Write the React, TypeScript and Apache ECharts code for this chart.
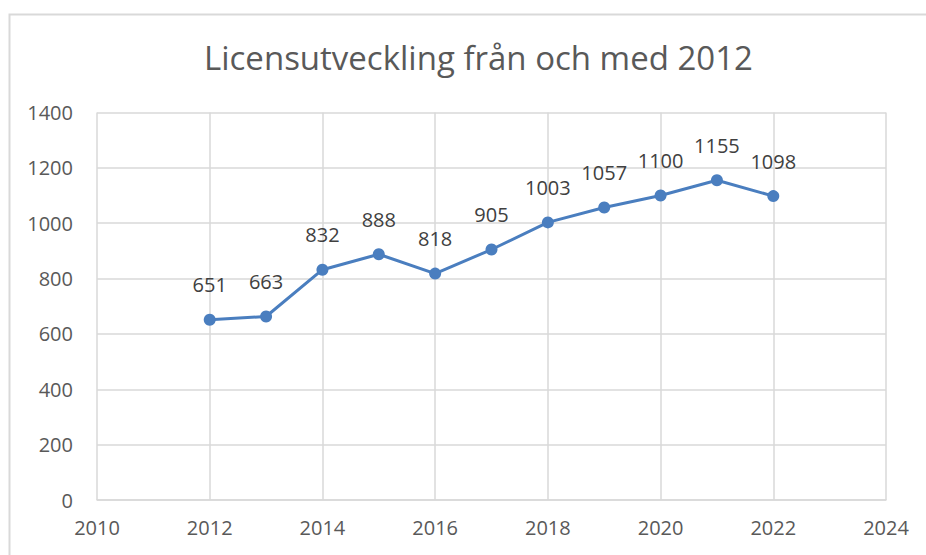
import React, { useEffect, useRef } from "react";
import * as echarts from "echarts";

const years = [2012, 2013, 2014, 2015, 2016, 2017, 2018, 2019, 2020, 2021, 2022];
const licenses = [651, 663, 832, 888, 818, 905, 1003, 1057, 1100, 1155, 1098];
const titleText = "Licensutveckling från och med 2012";

const FONT = "'Open Sans', 'Noto Sans', sans-serif";

export default function App() {
  const ref = useRef<HTMLDivElement>(null);
  useEffect(() => {
    if (!ref.current) return;
    const chart = echarts.init(ref.current, undefined, { renderer: "svg" });
    chart.setOption({
      animation: false,
      backgroundColor: "#ffffff",
      title: {
        text: titleText,
        left: 199,
        top: 36,
        textStyle: { color: "#595959", fontSize: 33, fontWeight: "normal", fontFamily: FONT },
      },
      graphic: [
        {
          type: "rect",
          shape: { x: 9.5, y: 14.5, width: 1000, height: 700 },
          style: { fill: "none", stroke: "#d9d9d9", lineWidth: 2 },
          silent: true,
          z: -1,
        },
      ],
      grid: { left: 97, top: 112.5, right: 40, bottom: 55 },
      xAxis: {
        type: "value",
        min: 2010,
        max: 2024,
        interval: 2,
        axisLine: { show: true, lineStyle: { color: "#d9d9d9", width: 1.5 } },
        axisTick: { show: false },
        splitLine: { show: true, lineStyle: { color: "#d9d9d9", width: 1.5 } },
        axisLabel: {
          color: "#595959",
          fontSize: 20,
          fontFamily: FONT,
          margin: 17,
          formatter: (v: number) => String(v),
        },
      },
      yAxis: {
        type: "value",
        min: 0,
        max: 1400,
        interval: 200,
        axisLine: { show: false },
        axisTick: { show: false },
        splitLine: { show: true, lineStyle: { color: "#d9d9d9", width: 1.5 } },
        axisLabel: {
          color: "#595959",
          fontSize: 20,
          fontFamily: FONT,
          margin: 24,
          formatter: (v: number) => String(v),
        },
      },
      series: [
        {
          type: "line",
          data: years.map((y, i) => [y, licenses[i]]),
          symbol: "circle",
          symbolSize: 12,
          lineStyle: { color: "#4a7ebf", width: 3 },
          itemStyle: { color: "#4a7ebf" },
          label: {
            show: true,
            position: "top",
            distance: 19,
            color: "#404040",
            fontSize: 20,
            fontFamily: FONT,
            formatter: (p: any) => String(p.value[1]),
          },
        },
      ],
    });
    return () => chart.dispose();
  }, []);
  return (
    <div
      ref={ref}
      style={{ position: "absolute", left: 0, top: 0, width: 926, height: 555 }}
    />
  );
}
